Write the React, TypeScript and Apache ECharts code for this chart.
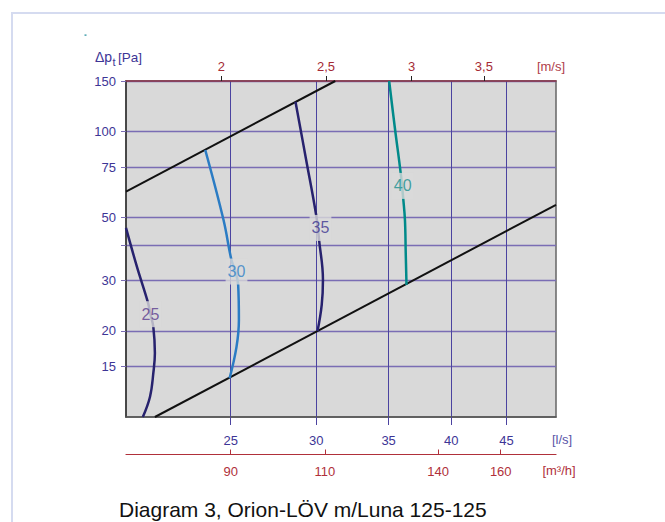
import { useEffect, useRef } from 'react';
import * as echarts from 'echarts';

// ---- axis ticks / ranges ----
const flowRange = [20, 50]; // l/s
const pressureRange = [10, 150]; // Pa
const flowTicks = [25, 30, 35, 40, 45]; // l/s
const velocityTicks = [2, 2.5, 3, 3.5]; // m/s
const m3hTicks = [90, 110, 140, 160]; // m³/h
const pressureGridTicks = [15, 20, 30, 40, 50, 75, 100, 150];
const pressureLabelTicks = [15, 20, 30, 50, 75, 100, 150];
const lsPerMs = 12.25; // l/s per m/s
const m3hPerLs = 3.6;

// ---- sound level curves (flow l/s, pressure Pa) ----
const c25Flow = [20.0, 20.47, 20.95, 21.07, 21.2, 21.27, 21.2, 21.05, 20.73];
const c25Pressure = [45.9, 33.6, 25.3, 22.9, 20.65, 16.75, 14.26, 11.78, 10];
const c30Flow = [23.68, 24.62, 25.04, 25.25, 25.4, 25.44, 25.31, 24.94];
const c30Pressure = [86.0, 48.9, 35.4, 32.3, 29.0, 21.85, 17.6, 13.66];
const c35Flow = [28.7, 29.35, 30.01, 30.18, 30.43, 30.35, 30.08];
const c35Pressure = [127, 80, 50.2, 41.6, 30.2, 24.7, 20.0];
const c40Flow = [35.04, 35.47, 35.93, 36.1, 36.24, 36.3, 36.36];
const c40Pressure = [150, 102.7, 70.3, 58.6, 48.9, 37.5, 29.0];

// ---- limit lines ----
const upperFlow = [20, 31.24];
const upperPressure = [61.5, 150];
const lowerFlow = [21.27, 50];
const lowerPressure = [10, 55.3];

// ---- curve labels ----
const labelTexts = ['25', '30', '35', '40'];
const labelFlow = [21.07, 25.31, 30.27, 36.06];
const labelPressure = [22.9, 32.3, 45.9, 64.4];
const labelColors = ['#5a3c8e', '#2f80c6', '#3c3590', '#178f8f'];

const L = Math.log10;
const pts = (qs: number[], ps: number[]) => qs.map((q, i) => [L(q), L(ps[i])]);

const FONT = "'Liberation Sans', Arial, sans-serif";
const NAVY = '#3d3596';
const RED = '#b0303a';
const HGRID = '#7a6db4';
const VGRID = '#4b43a0';

export default function App() {
  const ref = useRef<HTMLDivElement>(null);
  useEffect(() => {
    if (!ref.current) return;
    const chart = echarts.init(ref.current, undefined, { renderer: 'svg' });
    const lineSeries = (data: number[][], color: string, width: number, smooth: number) => ({
      type: 'line',
      data,
      xAxisIndex: 0,
      yAxisIndex: 0,
      smooth,
      symbol: 'none',
      lineStyle: { color, width },
      z: 3,
    });
    chart.setOption({
      animation: false,
      textStyle: { fontFamily: FONT },
      grid: {
        left: 126,
        right: 109,
        top: 81,
        bottom: 105,
        show: true,
        backgroundColor: '#d9d9d9',
        borderColor: '#666',
        borderWidth: 1.5,
      },
      xAxis: [
        {
          type: 'value',
          position: 'bottom',
          min: L(flowRange[0]),
          max: L(flowRange[1]),
          axisLine: { show: true, lineStyle: { color: '#555', width: 1.5 } },
          axisTick: { show: true, customValues: flowTicks.map(L), length: 8, lineStyle: { color: VGRID } },
          axisLabel: {
            customValues: flowTicks.map(L),
            formatter: (v: number) => String(Math.round(Math.pow(10, v))),
            color: NAVY,
            fontSize: 13,
            margin: 17,
          },
          splitLine: { show: true, lineStyle: { color: VGRID, width: 1 } },
        },
        {
          type: 'value',
          position: 'top',
          min: L(flowRange[0]),
          max: L(flowRange[1]),
          axisLine: { show: true, lineStyle: { color: '#8c3545', width: 1.5 } },
          axisTick: { show: true, customValues: velocityTicks.map((v) => L(v * lsPerMs)), length: 5, lineStyle: { color: '#222' } },
          axisLabel: {
            customValues: velocityTicks.map((v) => L(v * lsPerMs)),
            formatter: (v: number) => String(Math.round((Math.pow(10, v) / lsPerMs) * 10) / 10).replace('.', ','),
            color: '#a52a35',
            fontSize: 13,
            margin: 8,
          },
          splitLine: { show: false },
        },
        {
          type: 'value',
          position: 'bottom',
          offset: 37.5,
          min: L(flowRange[0]),
          max: L(flowRange[1]),
          axisLine: { show: true, lineStyle: { color: RED, width: 1.2 } },
          axisTick: { show: true, inside: true, customValues: m3hTicks.map((m) => L(m / m3hPerLs)), length: 5, lineStyle: { color: RED } },
          axisLabel: {
            customValues: m3hTicks.map((m) => L(m / m3hPerLs)),
            formatter: (v: number) => String(Math.round(Math.pow(10, v) * m3hPerLs)),
            color: RED,
            fontSize: 13,
            margin: 10,
          },
          splitLine: { show: false },
        },
      ],
      yAxis: [
        {
          type: 'value',
          min: L(pressureRange[0]),
          max: L(pressureRange[1]),
          axisLine: { show: true, lineStyle: { color: '#333', width: 1.5 } },
          axisTick: { show: true, customValues: pressureGridTicks.map(L), length: 5, lineStyle: { color: HGRID } },
          axisLabel: {
            customValues: pressureLabelTicks.map(L),
            formatter: (v: number) => String(Math.round(Math.pow(10, v))),
            color: NAVY,
            fontSize: 13,
            margin: 10,
          },
          splitLine: { show: true, lineStyle: { color: HGRID, width: 1.3 } },
        },
      ],
      series: [
        lineSeries(pts(upperFlow, upperPressure), '#111', 2, 0),
        lineSeries(pts(lowerFlow, lowerPressure), '#111', 2, 0),
        lineSeries(pts(c25Flow, c25Pressure), '#27226e', 2.5, 0.4),
        lineSeries(pts(c30Flow, c30Pressure), '#2b7cc4', 2.5, 0.4),
        lineSeries(pts(c35Flow, c35Pressure), '#27226e', 2.5, 0.4),
        lineSeries(pts(c40Flow, c40Pressure), '#008a8a', 2.5, 0.4),
        {
          type: 'scatter',
          xAxisIndex: 0,
          yAxisIndex: 0,
          symbol: 'circle',
          symbolSize: 1,
          itemStyle: { color: 'rgba(0,0,0,0)' },
          z: 6,
          data: labelTexts.map((t, i) => ({
            value: [L(labelFlow[i]), L(labelPressure[i])],
            name: t,
            label: { color: labelColors[i] },
          })),
          label: {
            show: true,
            position: 'inside',
            formatter: (p: any) => p.name,
            fontSize: 16,
            fontFamily: FONT,
            backgroundColor: '#d9d9d9',
            padding: [5, 2, 5, 2],
          },
        },
      ],
      graphic: [
        {
          type: 'rect',
          shape: { x: 12, y: 13, width: 700, height: 600 },
          style: { fill: 'none', stroke: '#d5dbf0', lineWidth: 2 },
          silent: true,
        },
        {
          type: 'rect',
          shape: { x: 84.5, y: 34.5, width: 2, height: 1.2 },
          style: { fill: '#1a8a9a' },
        },
        {
          type: 'text',
          x: 95,
          y: 64,
          style: { text: 'Δp', fontSize: 14, fontFamily: FONT, fill: NAVY, align: 'left', verticalAlign: 'bottom' },
        },
        {
          type: 'text',
          x: 112.5,
          y: 67,
          style: { text: 't', fontSize: 11, fontFamily: FONT, fill: NAVY, align: 'left', verticalAlign: 'bottom' },
        },
        {
          type: 'text',
          x: 118,
          y: 64,
          style: { text: '[Pa]', fontSize: 13.5, fontFamily: FONT, fill: NAVY, align: 'left', verticalAlign: 'bottom' },
        },
        {
          type: 'text',
          x: 551,
          y: 66,
          style: { text: '[m/s]', fontSize: 13, fontFamily: FONT, fill: '#b0404a', align: 'center', verticalAlign: 'middle' },
        },
        {
          type: 'text',
          x: 562,
          y: 439.5,
          style: { text: '[l/s]', fontSize: 13, fontFamily: FONT, fill: '#5a55a8', align: 'center', verticalAlign: 'middle' },
        },
        {
          type: 'text',
          x: 559,
          y: 470,
          style: { text: '[m³/h]', fontSize: 13, fontFamily: FONT, fill: RED, align: 'center', verticalAlign: 'middle' },
        },
        {
          type: 'text',
          x: 119,
          y: 509,
          style: {
            text: 'Diagram 3, Orion-LÖV m/Luna 125-125',
            fontSize: 21,
            fontFamily: FONT,
            fill: '#111',
            align: 'left',
            verticalAlign: 'middle',
          },
        },
      ],
    });
    return () => chart.dispose();
  }, []);
  return (
    <div
      ref={ref}
      style={{ position: 'fixed', left: 0, top: 0, width: 665, height: 522, background: '#fff' }}
    />
  );
}
